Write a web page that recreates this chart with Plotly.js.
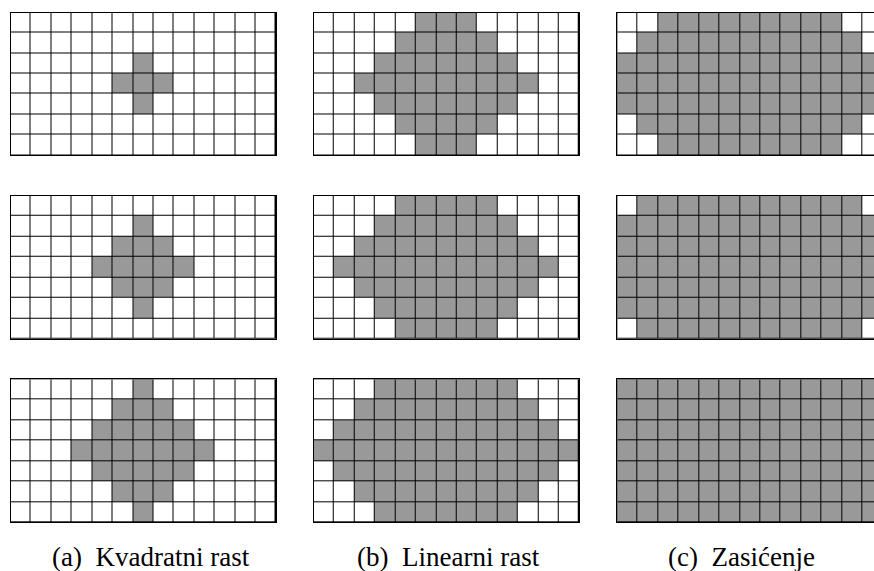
<!DOCTYPE html>
<html>
<head>
<meta charset="utf-8">
<script src="https://cdn.plot.ly/plotly-3.0.1.min.js"></script>
<style>html,body{margin:0;padding:0;background:#fff;}#chart{width:874px;height:571px;}</style>
</head>
<body>
<div id="chart"></div>
<script>
// Column indices and row indices of each 13 x 7 raster
const colIdx = [0,1,2,3,4,5,6,7,8,9,10,11,12];
const rowIdx = [0,1,2,3,4,5,6];

// Captions under each column
const captions = ["(a)\u00a0 Kvadratni rast", "(b)\u00a0 Linearni rast", "(c)\u00a0 Zasićenje"];

// Filled cells (1 = gray, 0 = white), row 0 at the top
const gridA1 = ["0000000000000","0000000000000","0000001000000","0000011100000","0000001000000","0000000000000","0000000000000"];
const gridA2 = ["0000000000000","0000001000000","0000011100000","0000111110000","0000011100000","0000001000000","0000000000000"];
const gridA3 = ["0000001000000","0000011100000","0000111110000","0001111111000","0000111110000","0000011100000","0000001000000"];

const gridB1 = ["0000011100000","0000111110000","0001111111000","0011111111100","0001111111000","0000111110000","0000011100000"];
const gridB2 = ["0000111110000","0001111111000","0011111111100","0111111111110","0011111111100","0001111111000","0000111110000"];
const gridB3 = ["0001111111000","0011111111100","0111111111110","1111111111111","0111111111110","0011111111100","0001111111000"];

const gridC1 = ["0011111111100","0111111111110","1111111111111","1111111111111","1111111111111","0111111111110","0011111111100"];
const gridC2 = ["0111111111110","1111111111111","1111111111111","1111111111111","1111111111111","1111111111111","0111111111110"];
const gridC3 = ["1111111111111","1111111111111","1111111111111","1111111111111","1111111111111","1111111111111","1111111111111"];

const grids = [[gridA1, gridB1, gridC1],[gridA2, gridB2, gridC2],[gridA3, gridB3, gridC3]];

// ---- layout (pixels) ----
const W = 874, H = 571;
const colPx = [[10.5, 276], [313.7, 579], [617.3, 874]];
const rowPx = [[12.5, 155], [195.7, 338.7], [379.3, 522.3]];
const cellPx = 20.42;
const capX = [150.5, 449, 741];
const capY = 557;
const GRAY = '#999999';

const toZ = g => g.map(r => r.split('').map(Number));

const data = [];
const layout = {
  width: W, height: H,
  margin: {l:0, r:0, t:0, b:0, pad:0},
  paper_bgcolor: '#ffffff',
  plot_bgcolor: '#000000',
  showlegend: false,
  annotations: []
};

let k = 0;
for (let r = 0; r < 3; r++) {
  for (let c = 0; c < 3; c++) {
    k++;
    const xa = 'x' + (k === 1 ? '' : k);
    const ya = 'y' + (k === 1 ? '' : k);
    const xname = 'xaxis' + (k === 1 ? '' : k);
    const yname = 'yaxis' + (k === 1 ? '' : k);
    data.push({
      type: 'heatmap',
      x: colIdx, y: rowIdx,
      z: toZ(grids[r][c]),
      zmin: 0, zmax: 1,
      colorscale: [[0, '#ffffff'], [1, GRAY]],
      showscale: false,
      xgap: 1, ygap: 1,
      hoverinfo: 'skip',
      xaxis: xa, yaxis: ya
    });
    const x0 = colPx[c][0], x1 = colPx[c][1];
    const visibleCols = (x1 - x0) / cellPx;
    layout[xname] = {
      domain: [x0 / W, x1 / W],
      range: [-0.5, -0.5 + visibleCols],
      showline: true, linecolor: '#000', linewidth: 1, mirror: true,
      showgrid: false, zeroline: false, showticklabels: false, ticks: '',
      fixedrange: true, anchor: ya
    };
    layout[yname] = {
      domain: [1 - rowPx[r][1] / H, 1 - rowPx[r][0] / H],
      range: [6.5, -0.5],
      showline: true, linecolor: '#000', linewidth: 1, mirror: c < 2,
      showgrid: false, zeroline: false, showticklabels: false, ticks: '',
      fixedrange: true, anchor: xa
    };
  }
}

for (let c = 0; c < 3; c++) {
  layout.annotations.push({
    text: captions[c],
    xref: 'paper', yref: 'paper',
    x: capX[c] / W, y: 1 - capY / H,
    xanchor: 'center', yanchor: 'middle',
    showarrow: false,
    font: {family: '"Liberation Serif", "DejaVu Serif", serif', size: 27, color: '#000'}
  });
}

Plotly.newPlot('chart', data, layout, {staticPlot: true, displayModeBar: false});
</script>
</body>
</html>
